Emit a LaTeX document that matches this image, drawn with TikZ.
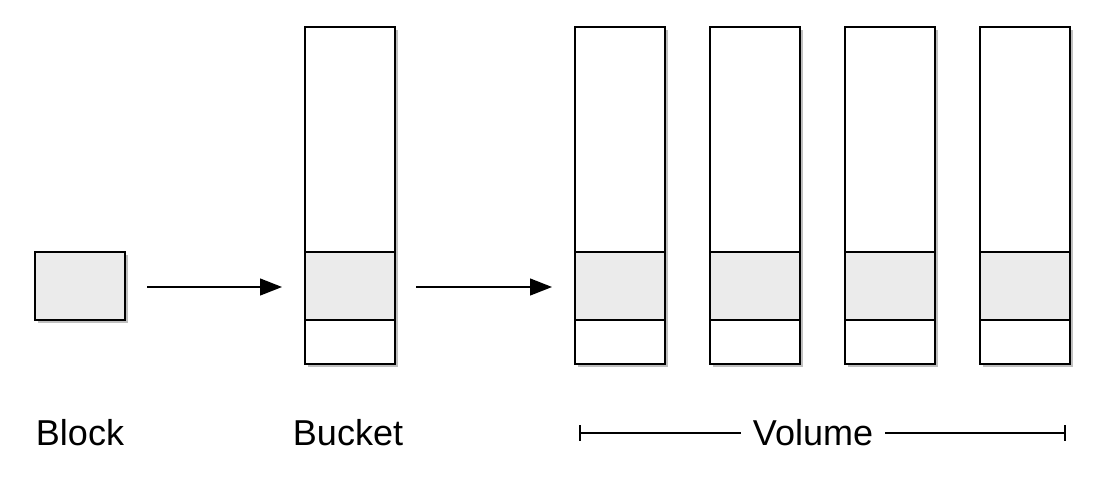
\documentclass[tikz,border=0pt]{standalone}
\usepackage{fontspec}
\setmainfont{Liberation Sans}
\usetikzlibrary{arrows.meta}
\begin{document}
\begin{tikzpicture}[x=1pt,y=-1pt,
  box/.style={draw=black,line width=1.3pt},
  grayfill/.style={fill=black!8},
  lbl/.style={font=\fontsize{36}{38}\selectfont},
  arr/.style={line width=1.3pt,-{Triangle[length=22pt,width=17pt]}}]
\useasboundingbox (0,0) rectangle (1102,490);
\fill[black!25] (38,255) rectangle (128,323);
\draw[box,grayfill] (35,252) rectangle (125,320);
\node[coordinate] (blk) at (125,287) {};
\foreach \x/\n in {305/bk,575/v1,710/v2,845/v3,980/v4}{
  \fill[black!25] (\x+3,30) rectangle (\x+93,367);
  \fill[white] (\x,27) rectangle (\x+90,364);
  \fill[black!8] (\x,252) rectangle (\x+90,320);
  \draw[box] (\x,27) rectangle (\x+90,364);
  \draw[box] (\x,252) -- (\x+90,252) (\x,320) -- (\x+90,320);
  \coordinate (\n) at (\x,287);
}
\coordinate (a1s) at (147,287); \coordinate (a1e) at (282,287);
\coordinate (a2s) at (416,287); \coordinate (a2e) at (552,287);
\draw[arr] (a1s) -- (a1e);
\draw[arr] (a2s) -- (a2e);
\node[lbl] (lb) at (80,433) {Block};
\node[lbl] (lk) at (348,433) {Bucket};
\node[lbl,inner xsep=12pt] (lv) at (813,433) {Volume};
\coordinate (vl) at (580,433); \coordinate (vr) at (1065,433);
\draw[line width=1.3pt] (vl) -- (lv.west) (lv.east) -- (vr);
\draw[line width=1.3pt] (580,425) -- (580,441) (1065,425) -- (1065,441);
\end{tikzpicture}
\end{document}
